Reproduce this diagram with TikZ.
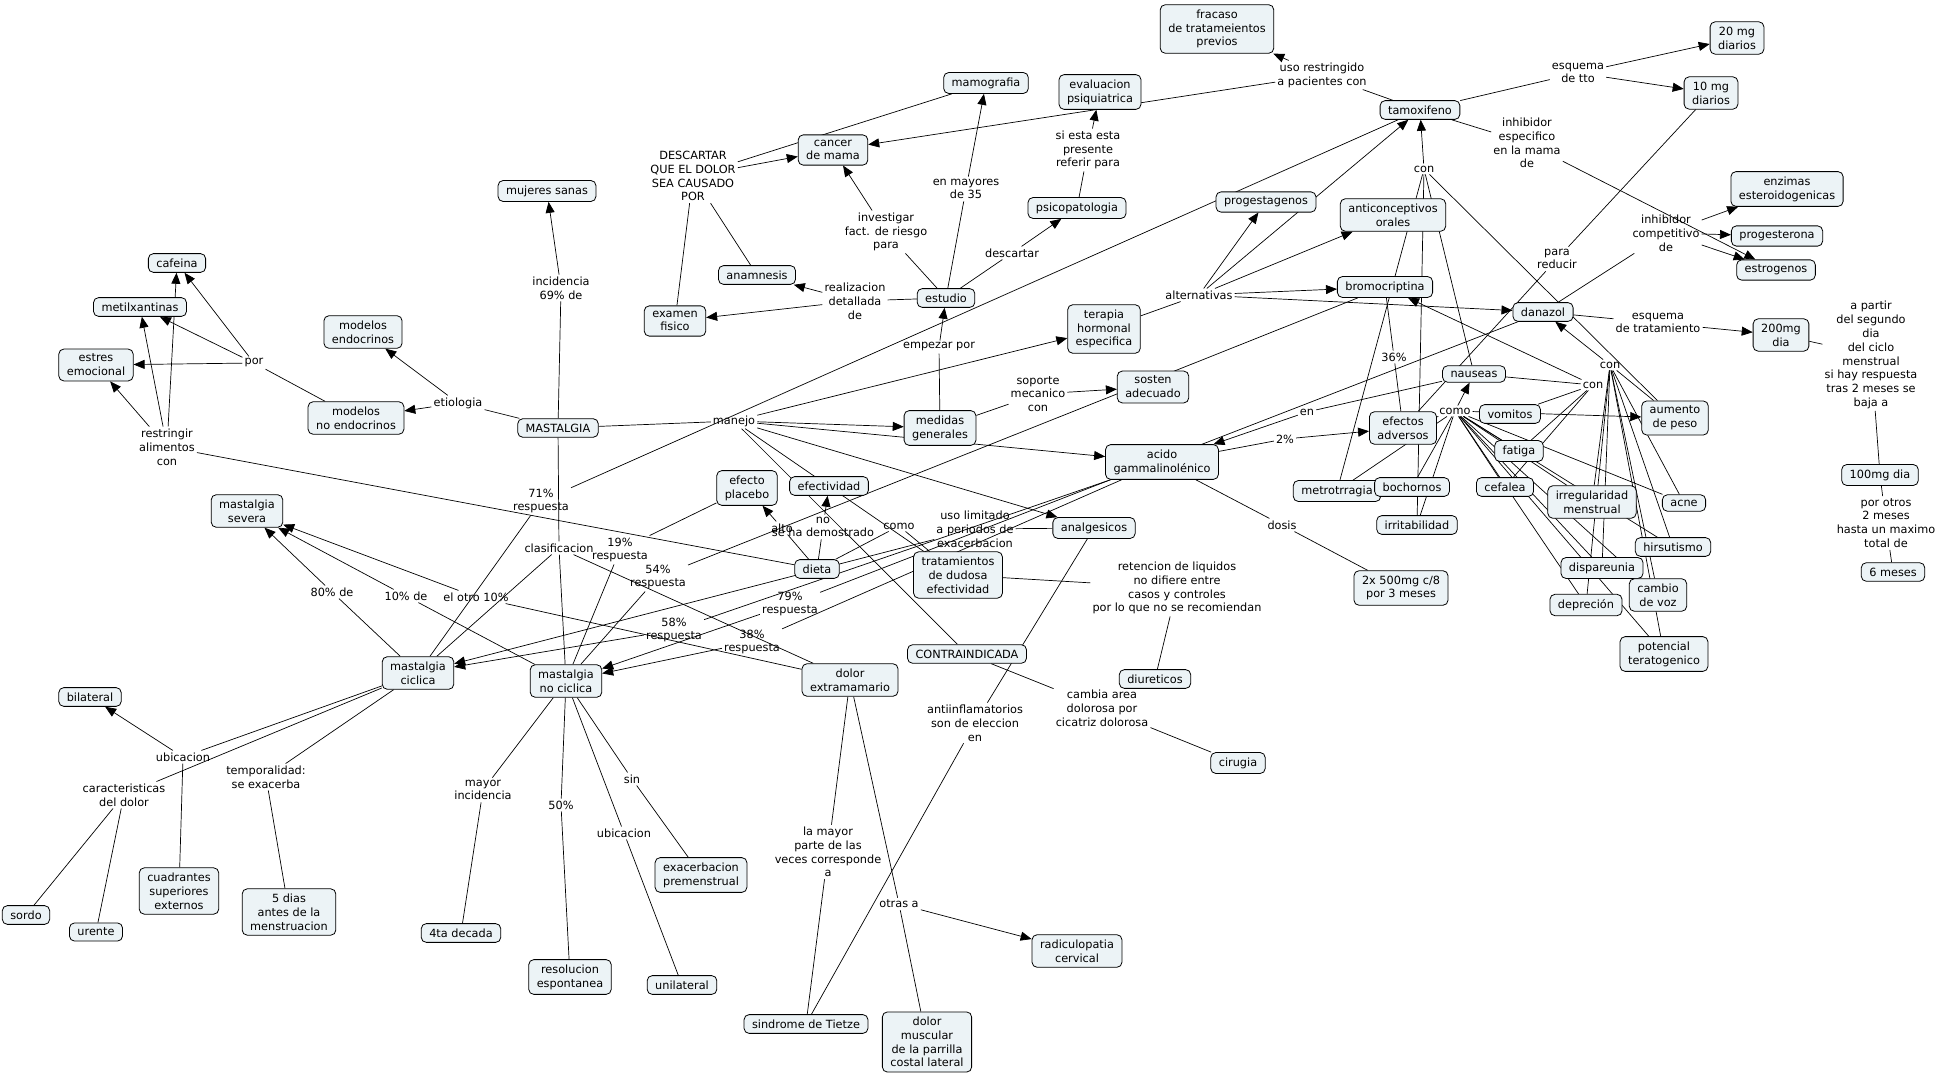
\documentclass[tikz,border=0pt]{standalone}
\usepackage{fontspec}
\setmainfont{DejaVu Sans}
\usepackage{xcolor}
\usepackage{tikz}
\usetikzlibrary{arrows.meta,backgrounds}
\definecolor{cfill}{RGB}{236,243,246}
\newcommand{\mapfont}{\fontsize{11.3}{13.8}\selectfont}
\tikzset{
 cpt/.style={draw=black,fill=cfill,rounded corners=5pt,line width=0.8pt,
   inner xsep=8pt,inner ysep=5pt,align=center,font=\mapfont},
 lnk/.style={inner sep=2pt,align=center,font=\mapfont},
 cline/.style={line width=0.7pt},
 carr/.style={line width=0.7pt,-{Triangle[length=11pt,width=9pt]}}
}
\newcommand{\cpt}[4]{\node[cpt] (#1) at (#2,#3) {#4};}
\newcommand{\lnk}[4]{\node[lnk] (#1) at (#2,#3) {#4};}
\newcommand{\cnx}[2]{\begin{pgfonlayer}{background}\draw[cline] (#1)--(#2);\end{pgfonlayer}}
\newcommand{\cax}[2]{\begin{pgfonlayer}{background}\draw[carr] (#1)--(#2);\end{pgfonlayer}}
\begin{document}
\begin{tikzpicture}[x=1pt,y=-1pt]
\useasboundingbox (0,0) rectangle (1939,1078);
\begin{pgfonlayer}{background}
\fill[white] (0,0) rectangle (1939,1078);
\end{pgfonlayer}

% concepts
\cpt{sanas}{547}{191}{mujeres sanas}
\cpt{cafe}{177}{263}{cafeina}
\cpt{metil}{140}{307}{metilxantinas}
\cpt{mendo}{363}{332}{modelos\\endocrinos}
\cpt{estres}{96}{365}{estres\\emocional}
\cpt{mnoendo}{356}{418}{modelos\\no endocrinos}
\cpt{mast}{558}{428}{MASTALGIA}
\cpt{severa}{247}{511}{mastalgia\\severa}
\cpt{mcic}{418}{673}{mastalgia\\ciclica}
\cpt{bilat}{90}{697}{bilateral}
\cpt{cuadr}{179}{891}{cuadrantes\\superiores\\externos}
\cpt{sordo}{26}{915}{sordo}
\cpt{urente}{96}{932}{urente}
\cpt{cinco}{289}{912}{5 dias\\antes de la\\menstruacion}
\cpt{cuarta}{461}{933}{4ta decada}
\cpt{mnc}{566}{681}{mastalgia\\no ciclica}
\cpt{exac}{701}{875}{exacerbacion\\premenstrual}
\cpt{resol}{570}{977}{resolucion\\espontanea}
\cpt{unilat}{682}{985}{unilateral}
\cpt{tietze}{806}{1024}{sindrome de Tietze}
\cpt{dolmusc}{927}{1042}{dolor\\muscular\\de la parrilla\\costal lateral}
\cpt{radic}{1077}{951}{radiculopatia\\cervical}
\cpt{cirugia}{1238}{763}{cirugia}
\cpt{diur}{1155}{679}{diureticos}
\cpt{contra}{967}{654}{CONTRAINDICADA}
\cpt{dext}{850}{680}{dolor\\extramamario}
\cpt{tratam}{958}{575}{tratamientos\\de dudosa\\efectividad}
\cpt{dieta}{817}{569}{dieta}
\cpt{placebo}{747}{488}{efecto\\placebo}
\cpt{efect}{829}{486}{efectividad}
\cpt{analg}{1094}{528}{analgesicos}
\cpt{medidas}{940}{428}{medidas\\generales}
\cpt{sosten}{1153}{387}{sosten\\adecuado}
\cpt{gla}{1162}{462}{acido\\gammalinolénico}
\cpt{dosisx}{1401}{588}{2x 500mg c/8\\por 3 meses}
\cpt{terapia}{1104}{329}{terapia\\hormonal\\especifica}
\cpt{estudio}{946}{298}{estudio}
\cpt{anam}{757}{275}{anamnesis}
\cpt{examen}{675}{321}{examen\\fisico}
\cpt{cancer}{833}{150}{cancer\\de mama}
\cpt{mamo}{986}{83}{mamografia}
\cpt{evalpsi}{1100}{92}{evaluacion\\psiquiatrica}
\cpt{psico}{1077}{208}{psicopatologia}
\cpt{fracaso}{1217}{29}{fracaso\\de tratameientos\\previos}
\cpt{tamox}{1420}{110}{tamoxifeno}
\cpt{progest}{1266}{202}{progestagenos}
\cpt{antic}{1393}{215}{anticonceptivos\\orales}
\cpt{bromo}{1385}{287}{bromocriptina}
\cpt{danazol}{1543}{312}{danazol}
\cpt{veinte}{1737}{38}{20 mg\\diarios}
\cpt{diez}{1711}{93}{10 mg\\diarios}
\cpt{enzimas}{1787}{189}{enzimas\\esteroidogenicas}
\cpt{progona}{1777}{236}{progesterona}
\cpt{estrog}{1776}{270}{estrogenos}
\cpt{dcien}{1781}{335}{200mg\\dia}
\cpt{dmil}{1880}{475}{100mg dia}
\cpt{seis}{1893}{572}{6 meses}
\cpt{advers}{1403}{428}{efectos\\adversos}
\cpt{metro}{1337}{491}{metrotrragia}
\cpt{bochor}{1412}{487}{bochornos}
\cpt{irrit}{1417}{525}{irritabilidad}
\cpt{nauseas}{1474}{374}{nauseas}
\cpt{vomitos}{1510}{414}{vomitos}
\cpt{aumento}{1675}{418}{aumento\\de peso}
\cpt{fatiga}{1519}{451}{fatiga}
\cpt{cefalea}{1505}{487}{cefalea}
\cpt{irreg}{1592}{502}{irregularidad\\menstrual}
\cpt{acne}{1684}{503}{acne}
\cpt{hirsut}{1673}{547}{hirsutismo}
\cpt{dispar}{1602}{568}{dispareunia}
\cpt{voz}{1658}{595}{cambio\\de voz}
\cpt{depre}{1586}{605}{depreción}
\cpt{terato}{1664}{654}{potencial\\teratogenico}

% linking phrases
\lnk{etio}{458}{403}{etiologia}
\lnk{por}{254}{363}{por}
\lnk{restr}{167}{447}{restringir\\alimentos\\con}
\lnk{incid}{561}{288}{incidencia\\69\% de}
\lnk{clasif}{559}{548}{clasificacion}
\lnk{pochenta}{332}{592}{80\% de}
\lnk{pdiez}{406}{596}{10\% de}
\lnk{otro}{476}{597}{el otro 10\%}
\lnk{ubicu}{183}{757}{ubicacion}
\lnk{caract}{124}{795}{caracteristicas\\del dolor}
\lnk{tempo}{266}{777}{temporalidad:\\se exacerba}
\lnk{mayor}{483}{790}{mayor\\incidencia}
\lnk{pcinc}{561}{805}{50\%}
\lnk{ubicd}{624}{833}{ubicacion}
\lnk{sin}{632}{779}{sin}
\lnk{lamayor}{828}{852}{la mayor\\parte de las\\veces corresponde\\a}
\lnk{otras}{899}{904}{otras a}
\lnk{antiinf}{975}{723}{antiinflamatorios\\son de eleccion\\en}
\lnk{cambia}{1102}{708}{cambia area\\dolorosa por\\cicatriz dolorosa}
\lnk{reten}{1177}{588}{retencion de liquidos\\no difiere entre\\casos y controles\\por lo que no se recomiendan}
\lnk{usolim}{975}{529}{uso limitado\\a periodos de\\exacerbacion}
\lnk{manejo}{734}{421}{manejo}
\lnk{rsetu}{541}{501}{71\%\\respuesta}
\lnk{rdiec}{620}{550}{19\%\\respuesta}
\lnk{rcincc}{658}{577}{54\%\\respuesta}
\lnk{rsetn}{790}{604}{79\%\\respuesta}
\lnk{rcincoc}{674}{630}{58\%\\respuesta}
\lnk{rtreo}{752}{642}{38\%\\respuesta}
\lnk{alto}{782}{528}{alto}
\lnk{nodem}{823}{527}{no\\se ha demostrado}
\lnk{comoa}{899}{526}{como}
\lnk{soporte}{1038}{394}{soporte\\mecanico\\con}
\lnk{empezar}{939}{347}{empezar por}
\lnk{investig}{886}{232}{investigar\\fact. de riesgo\\para}
\lnk{enmay}{966}{189}{en mayores\\de 35}
\lnk{descar}{1012}{253}{descartar}
\lnk{siesta}{1088}{150}{si esta esta\\presente\\referir para}
\lnk{realiz}{855}{301}{realizacion\\detallada\\de}
\lnk{DESC}{693}{176}{DESCARTAR\\QUE EL DOLOR\\SEA CAUSADO\\POR}
\lnk{usorest}{1322}{75}{uso restringido\\a pacientes con}
\lnk{esqtto}{1578}{73}{esquema\\de tto}
\lnk{inhesp}{1527}{143}{inhibidor\\especifico\\en la mama\\de}
\lnk{inhcomp}{1666}{233}{inhibidor\\competitivo\\de}
\lnk{parared}{1557}{259}{para\\reducir}
\lnk{esqtrat}{1658}{323}{esquema\\de tratamiento}
\lnk{apartir}{1871}{355}{a partir\\del segundo\\dia\\del ciclo\\menstrual\\si hay respuesta\\tras 2 meses se\\baja a}
\lnk{porotros}{1886}{523}{por otros\\2 meses\\hasta un maximo\\total de}
\lnk{altern}{1199}{295}{alternativas}
\lnk{cona}{1424}{169}{con}
\lnk{ptreis}{1394}{357}{36\%}
\lnk{en}{1307}{412}{en}
\lnk{pdos}{1285}{439}{2\%}
\lnk{dosis}{1282}{525}{dosis}
\lnk{conb}{1610}{365}{con}
\lnk{conc}{1593}{385}{con}
\lnk{comob}{1455}{411}{como}

% connectors, left side
\cnx{mast}{etio} \cax{etio}{mendo} \cax{etio}{mnoendo}
\cnx{mnoendo}{por} \cax{por}{cafe} \cax{por}{metil} \cax{por}{estres}
\cnx{dieta}{restr} \cax{restr}{estres} \cax{restr}{metil} \cax{restr}{cafe}
\cnx{mast}{incid} \cax{incid}{sanas}
\cnx{mast}{clasif} \cnx{clasif}{mcic} \cnx{clasif}{mnc} \cnx{clasif}{dext}
\cnx{mcic}{pochenta} \cax{pochenta}{severa}
\cnx{mnc}{pdiez} \cax{pdiez}{severa}
\cnx{dext}{otro} \cax{otro}{severa}
\cnx{mcic}{ubicu} \cax{ubicu}{bilat} \cnx{ubicu}{cuadr}
\cnx{mcic}{caract} \cnx{caract}{sordo} \cnx{caract}{urente}
\cnx{mcic}{tempo} \cnx{tempo}{cinco}
\cnx{mnc}{mayor} \cnx{mayor}{cuarta}
\cnx{mnc}{pcinc} \cnx{pcinc}{resol}
\cnx{mnc}{ubicd} \cnx{ubicd}{unilat}
\cnx{mnc}{sin} \cnx{sin}{exac}
\cnx{dext}{lamayor} \cnx{lamayor}{tietze}
\cnx{dext}{otras} \cnx{otras}{dolmusc} \cax{otras}{radic}
\cnx{analg}{antiinf} \cnx{antiinf}{tietze}
\cnx{contra}{cambia} \cnx{cambia}{cirugia}
\cnx{diur}{reten} \cnx{reten}{tratam}

% manejo
\cnx{mast}{manejo}
\cax{manejo}{medidas} \cax{manejo}{terapia} \cax{manejo}{gla} \cax{manejo}{analg}
\cnx{manejo}{contra} \cnx{manejo}{tratam}
\cnx{medidas}{soporte} \cax{soporte}{sosten}
\cnx{medidas}{empezar} \cax{empezar}{estudio}
\cnx{estudio}{investig} \cax{investig}{cancer}
\cnx{estudio}{enmay} \cax{enmay}{mamo}
\cnx{estudio}{descar} \cax{descar}{psico}
\cnx{psico}{siesta} \cax{siesta}{evalpsi}
\cnx{estudio}{realiz} \cax{realiz}{anam} \cax{realiz}{examen}
\cnx{anam}{DESC} \cax{DESC}{cancer} \cnx{examen}{DESC} \cnx{mamo}{DESC}

% respuestas
\cnx{tamox}{rsetu} \cnx{rsetu}{mcic}
\cnx{placebo}{rdiec} \cnx{rdiec}{mnc}
\cnx{bromo}{rcincc} \cnx{rcincc}{mnc}
\cnx{gla}{rcincoc} \cax{rcincoc}{mcic}
\cnx{gla}{rtreo} \cax{rtreo}{mnc}
\cnx{danazol}{rsetn} \cax{rsetn}{mnc}
\cnx{analg}{usolim} \cax{usolim}{mcic}
\cnx{dieta}{alto} \cax{alto}{placebo}
\cnx{dieta}{nodem} \cax{nodem}{efect}
\cnx{dieta}{comoa} \cnx{comoa}{tratam}

% hormonal
\cnx{tamox}{usorest} \cax{usorest}{fracaso} \cax{usorest}{cancer}
\cnx{tamox}{esqtto} \cax{esqtto}{veinte} \cax{esqtto}{diez}
\cnx{tamox}{inhesp} \cax{inhesp}{estrog}
\cnx{danazol}{inhcomp} \cax{inhcomp}{enzimas} \cax{inhcomp}{progona} \cax{inhcomp}{estrog}
\cnx{danazol}{esqtrat} \cax{esqtrat}{dcien}
\cnx{dcien}{apartir} \cnx{apartir}{dmil} \cnx{dmil}{porotros} \cnx{porotros}{seis}
\cnx{terapia}{altern} \cax{altern}{progest} \cax{altern}{antic} \cax{altern}{bromo}
\cax{altern}{danazol} \cax{altern}{tamox}
\cnx{gla}{dosis} \cnx{dosis}{dosisx}
\cnx{gla}{pdos} \cax{pdos}{advers}
\cnx{nauseas}{en} \cax{en}{gla}
\cnx{bromo}{ptreis} \cnx{ptreis}{advers}
\cnx{diez}{parared} \cnx{parared}{advers}

% efectos adversos
\cax{cona}{tamox}
\cnx{cona}{metro} \cnx{cona}{irrit} \cnx{cona}{nauseas} \cnx{cona}{aumento}
\cax{conb}{danazol}
\cnx{conb}{aumento} \cnx{conb}{acne} \cnx{conb}{hirsut} \cnx{conb}{voz}
\cnx{conb}{terato} \cnx{conb}{irreg} \cnx{conb}{dispar} \cnx{conb}{depre}
\cax{conc}{bromo}
\cnx{conc}{nauseas} \cnx{conc}{vomitos} \cnx{conc}{fatiga} \cnx{conc}{cefalea}
\cnx{advers}{comob} \cax{comob}{nauseas} \cax{comob}{aumento}
\cnx{comob}{fatiga} \cnx{comob}{cefalea} \cnx{comob}{irreg} \cnx{comob}{dispar}
\cnx{comob}{depre} \cnx{comob}{voz} \cnx{comob}{terato} \cnx{comob}{hirsut}
\cnx{comob}{acne} \cnx{comob}{metro} \cnx{comob}{bochor} \cnx{comob}{irrit}

\end{tikzpicture}
\end{document}
